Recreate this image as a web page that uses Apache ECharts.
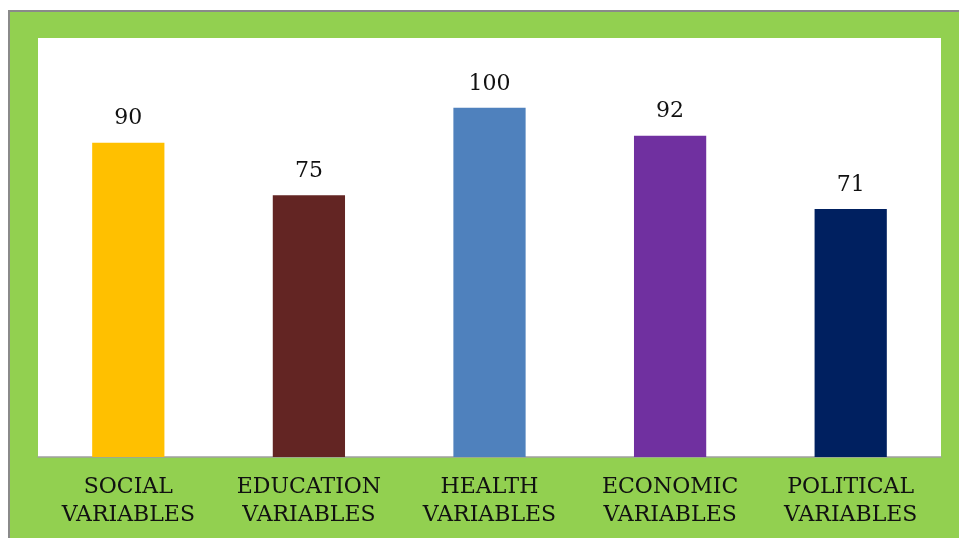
<!DOCTYPE html>
<html><head><meta charset="utf-8">
<script src="https://cdn.jsdelivr.net/npm/echarts@6/dist/echarts.min.js"></script>
<style>html,body{margin:0;padding:0;background:#fff}#c{width:959px;height:538px}</style>
</head><body><div id="c"></div>
<script>
const categories = ["SOCIAL\nVARIABLES","EDUCATION\nVARIABLES","HEALTH\nVARIABLES","ECONOMIC\nVARIABLES","POLITICAL\nVARIABLES"];
const values = [90, 75, 100, 92, 71];
const colors = ["#FFC000","#632523","#4F81BD","#7030A0","#002060"];

const chart = echarts.init(document.getElementById('c'));
chart.setOption({
  backgroundColor: '#fff',
  animation: false,
  graphic: [{
    type: 'rect', z: -10,
    shape: {x: 9, y: 11, width: 960, height: 540},
    style: {fill: '#92D050', stroke: '#8a8a8a', lineWidth: 2}
  }],
  grid: {left: 38, right: 18, top: 38, bottom: 81, show: true, backgroundColor: '#fff', borderWidth: 0},
  xAxis: {
    type: 'category', data: categories,
    axisLine: {lineStyle: {color: '#a0a0a0', width: 1.5}},
    axisTick: {show: false},
    axisLabel: {color: '#111', fontFamily: 'DejaVu Serif', fontSize: 22, lineHeight: 28, margin: 16, interval: 0}
  },
  yAxis: {type: 'value', min: 0, max: 120, show: false, splitLine: {show: false}},
  series: [{
    type: 'bar', barWidth: '40%',
    data: values.map((v, i) => ({value: v, itemStyle: {color: colors[i]}})),
    label: {show: true, position: 'top', distance: 13, color: '#111', fontFamily: 'DejaVu Serif', fontSize: 22}
  }]
});
</script></body></html>
